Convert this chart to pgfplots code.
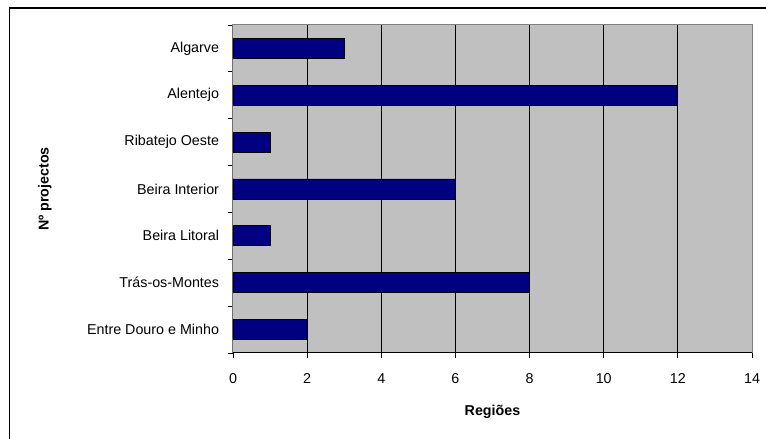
\documentclass[border=0pt]{standalone}
\usepackage{fontspec}
\setmainfont{Liberation Sans}
\usepackage{pgfplots}
\pgfplotsset{compat=1.18}
\definecolor{plotgray}{HTML}{C0C0C0}
\definecolor{navybar}{HTML}{000080}
\begin{document}
\fontsize{14.3}{17}\selectfont
\begin{tikzpicture}[x=1pt,y=1pt]
\useasboundingbox (0,0) rectangle (766,439);
\fill[white] (0,0) rectangle (766,439);
\draw[line width=1.3pt] (9.5,-2) -- (9.5,431) -- (768,431);
\begin{axis}[
  at={(233pt,86pt)}, anchor=south west,
  width=519pt, height=328pt, scale only axis,
  /pgf/number format/assume math mode=true,
  xbar, bar width=20pt,
  xmin=0, xmax=14, xtick={0,2,4,6,8,10,12,14},
  ymin=-0.5, ymax=6.5,
  ytick={-0.5,0.5,1.5,2.5,3.5,4.5,5.5,6.5},
  yticklabels={},
  extra y ticks={0,1,2,3,4,5,6},
  extra y tick labels={Entre Douro e Minho, Trás-os-Montes, Beira Litoral, Beira Interior, Ribatejo Oeste, Alentejo, Algarve},
  extra y tick style={major tick length=0pt, yticklabel style={xshift=-9pt}},
  xtick pos=bottom, ytick pos=left,
  tick align=outside, major tick length=5pt,
  tick style={black, line width=0.8pt},
  xticklabel style={yshift=-11pt},
  xmajorgrids, major grid style={black, line width=1pt},
  axis background/.style={fill=plotgray},
  axis line style={draw=gray, line width=1pt},
  every axis x label/.style={at={(axis description cs:0.5,-0.1795)}, anchor=center},
  every axis y label/.style={at={(axis description cs:-0.3622,0.5)}, rotate=90, anchor=center},
  xlabel={\bfseries Regiões},
  ylabel={\bfseries Nº projectos},
]
\addplot[fill=navybar, draw=black, line width=0.8pt] coordinates {
  (2,0) (8,1) (1,2) (6,3) (1,4) (12,5) (3,6)
};
\draw[black, line width=1pt] (rel axis cs:0,1) -- (rel axis cs:0,0) -- (rel axis cs:1,0);
\end{axis}
\end{tikzpicture}
\end{document}
